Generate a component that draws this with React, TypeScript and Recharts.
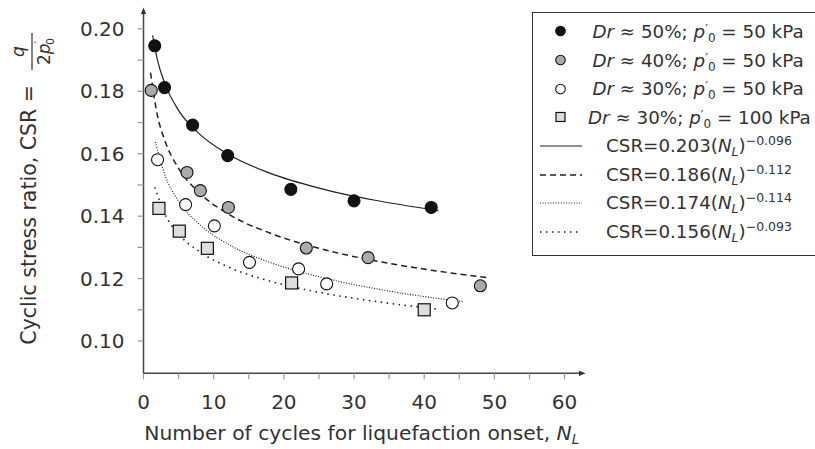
import {
  ComposedChart,
  Scatter,
  Line,
  XAxis,
  YAxis,
  Legend,
} from "recharts";

const blackN = [1.6, 3, 7, 12, 21, 30, 41];
const blackCSR = [0.1946, 0.1812, 0.1692, 0.1594, 0.1486, 0.1449, 0.1428];
const grayN = [1.1, 6.2, 8.1, 12.1, 23.2, 32, 48];
const grayCSR = [0.1803, 0.154, 0.1482, 0.1428, 0.1298, 0.1267, 0.1177];
const whiteN = [2, 6, 10.1, 15.1, 22.1, 26.1, 44];
const whiteCSR = [0.1581, 0.1437, 0.1369, 0.1252, 0.1231, 0.1183, 0.1122];
const squareN = [2.2, 5.1, 9.1, 21.1, 40];
const squareCSR = [0.1425, 0.1352, 0.1297, 0.1186, 0.11];

// fitted curves, sampled from the figure
const fitSolidN = [1.3, 2, 3, 5, 8, 12, 18, 25, 33, 42];
const fitSolidCSR = [0.1979, 0.1899, 0.1827, 0.1739, 0.1663, 0.1599, 0.1538, 0.149, 0.1451, 0.1418];
const fitDashN = [1, 2, 3, 5, 8, 12, 18, 25, 33, 41, 49];
const fitDashCSR = [0.186, 0.1721, 0.1645, 0.1553, 0.1474, 0.1408, 0.1346, 0.1297, 0.1257, 0.1227, 0.1203];
const fitDenseN = [1.7, 3, 5, 8, 12, 18, 25, 35, 45.5];
const fitDenseCSR = [0.1638, 0.1535, 0.1448, 0.1373, 0.1311, 0.1252, 0.1206, 0.116, 0.1126];
const fitSparseN = [1.6, 3, 5, 8, 12, 18, 25, 33, 42];
const fitSparseCSR = [0.1493, 0.1409, 0.1343, 0.1286, 0.1238, 0.1192, 0.1156, 0.1127, 0.1102];

const xTicks = [0, 5, 10, 15, 20, 25, 30, 35, 40, 45, 50, 55, 60];
const yTicks = [0.1, 0.11, 0.12, 0.13, 0.14, 0.15, 0.16, 0.17, 0.18, 0.19, 0.2];

const pointLabels = ["50%", "40%", "30%", "30%"];
const pressures = ["50", "50", "50", "100"];
const fitLabels = [
  ["0.203", "−0.096"],
  ["0.186", "−0.112"],
  ["0.174", "−0.114"],
  ["0.156", "−0.093"],
];

const FONT = "'DejaVu Sans', sans-serif";
const TEXT = "#333";

const toPts = (ns: number[], vs: number[]) => ns.map((n, i) => ({ n, csr: vs[i] }));

const circleShape = (fill: string) => (p: any) =>
  <circle cx={p.cx} cy={p.cy} r={6} fill={fill} stroke="#111" strokeWidth={1.1} />;

const squareShape = (p: any) =>
  <rect x={p.cx - 6} y={p.cy - 6} width={12} height={12} fill="#ddd" stroke="#111" strokeWidth={1.2} />;

const lineStyles = [
  { dash: undefined, width: 1.2 },
  { dash: "6 4", width: 1.5 },
  { dash: "1 1.6", width: 1.2 },
  { dash: "1.5 4.5", width: 1.6 },
];

function YLabel() {
  return (
    <g fill={TEXT} fontFamily={FONT}>
      <defs>
        <marker
          id="axisArrow"
          viewBox="0 0 10 10"
          refX={2}
          refY={5}
          markerWidth={7}
          markerHeight={7}
          markerUnits="userSpaceOnUse"
          orient="auto-start-reverse"
        >
          <path d="M0,1 L10,5 L0,9 z" fill="#333" />
        </marker>
      </defs>
      <text transform="translate(36,85) rotate(-90)" textAnchor="end" fontSize={20.5}>
        Cyclic stress ratio, CSR =
      </text>
      <text transform="translate(24,51.5) rotate(-90)" textAnchor="middle" fontSize={17} fontStyle="italic">
        q
      </text>
      <line x1={32} y1={33} x2={32} y2={70} stroke={TEXT} strokeWidth={1.2} />
      <text transform="translate(50,51.5) rotate(-90)" textAnchor="middle" fontSize={17}>
        2<tspan fontStyle="italic">p</tspan>
        <tspan fontSize={11} dy={-8}>′</tspan>
        <tspan fontSize={11} dx={-4} dy={12}>0</tspan>
      </text>
    </g>
  );
}

function XLabel(props: any) {
  const vb = props.viewBox || { x: 143.5, width: 436.5 };
  return (
    <text x={vb.x + vb.width / 2} y={440} textAnchor="middle" fontSize={20.3} fontFamily={FONT} fill={TEXT}>
      Number of cycles for liquefaction onset,{" "}
      <tspan fontStyle="italic">N</tspan>
      <tspan fontStyle="italic" fontSize={13.5} dy={4}>L</tspan>
    </text>
  );
}

function Prime0() {
  return (
    <>
      <sup style={{ fontSize: 12, verticalAlign: 5, lineHeight: 0, fontStyle: "normal" }}>′</sup>
      <sub style={{ fontSize: 12, verticalAlign: -4, lineHeight: 0, fontStyle: "normal" }}>0</sub>
    </>
  );
}

function MarkerIcon({ i }: { i: number }) {
  if (i === 3) return <rect x={23} y={5.5} width={9} height={9} fill="#ddd" stroke="#111" strokeWidth={1.2} />;
  const fill = ["#111", "#aaa", "#fff"][i];
  return <circle cx={27.5} cy={10} r={4.8} fill={fill} stroke="#111" strokeWidth={1.1} />;
}

function LegendBox() {
  const rowStyle = { display: "flex", alignItems: "center", height: 28.7 };
  return (
    <div
      style={{
        border: "1.5px solid #333",
        background: "#fff",
        width: 300,
        padding: "4px 0 8px 0",
        fontFamily: FONT,
        fontSize: 18.3,
        color: TEXT,
        whiteSpace: "nowrap",
      }}
    >
      {pointLabels.map((lab, i) => (
        <div key={"p" + i} style={rowStyle}>
          <svg width={55} height={20}>
            <MarkerIcon i={i} />
          </svg>
          <div style={{ width: 220, textAlign: "center" }}>
            <i>Dr</i> ≈ {lab}; <i>p</i>
            <Prime0 /> = {pressures[i]} kPa
          </div>
        </div>
      ))}
      {fitLabels.map(([a, b], i) => (
        <div key={"f" + i} style={rowStyle}>
          <svg width={55} height={20}>
            <line
              x1={7}
              y1={10}
              x2={49}
              y2={10}
              stroke="#222"
              strokeWidth={lineStyles[i].width}
              strokeDasharray={lineStyles[i].dash}
            />
          </svg>
          <div style={{ width: 222, textAlign: "center" }}>
            CSR=<span>{a}</span>(<i>N</i>
            <sub style={{ fontSize: 12.5, fontStyle: "italic", verticalAlign: -4 }}>L</sub>)
            <sup style={{ fontSize: 12.5, verticalAlign: 7 }}>{b}</sup>
          </div>
        </div>
      ))}
    </div>
  );
}

export default function App() {
  const series = [
    { data: toPts(blackN, blackCSR), shape: circleShape("#111") },
    { data: toPts(grayN, grayCSR), shape: circleShape("#aaa") },
    { data: toPts(whiteN, whiteCSR), shape: circleShape("#fff") },
    { data: toPts(squareN, squareCSR), shape: squareShape },
  ];
  const fits = [
    toPts(fitSolidN, fitSolidCSR),
    toPts(fitDashN, fitDashCSR),
    toPts(fitDenseN, fitDenseCSR),
    toPts(fitSparseN, fitSparseCSR),
  ];

  return (
    <div style={{ position: "absolute", left: 0, top: 0, width: 815, height: 449, overflow: "hidden", background: "#fff" }}>
      <ComposedChart width={815} height={449} margin={{ top: 13, right: 235, left: 0, bottom: 0 }}>
        <XAxis
          type="number"
          dataKey="n"
          domain={[0, 62.2]}
          ticks={xTicks}
          interval={0}
          tickFormatter={(v: number) => (v % 10 === 0 ? String(v) : "")}
          height={75.7}
          tickSize={6}
          tickMargin={15}
          tickLine={{ stroke: "#999", strokeWidth: 1.2 }}
          axisLine={{ stroke: "#444", strokeWidth: 1.5, markerEnd: "url(#axisArrow)" }}
          tick={{ fill: TEXT, fontSize: 20, fontFamily: FONT }}
          label={<XLabel />}
        />
        <YAxis
          type="number"
          dataKey="csr"
          domain={[0.08965, 0.2051]}
          ticks={yTicks}
          interval={0}
          tickFormatter={(v: number) => (Math.round(v * 100) % 2 === 0 ? v.toFixed(2) : "")}
          width={143.5}
          tickSize={6}
          tickMargin={13}
          tickLine={{ stroke: "#999", strokeWidth: 1.2 }}
          axisLine={{ stroke: "#444", strokeWidth: 1.5, markerStart: "url(#axisArrow)" }}
          tick={{ fill: TEXT, fontSize: 20, fontFamily: FONT }}
          label={<YLabel />}
        />
        {fits.map((d, i) => (
          <Line
            key={"fit" + i}
            data={d}
            dataKey="csr"
            type="monotone"
            dot={false}
            activeDot={false}
            stroke="#222"
            strokeWidth={lineStyles[i].width}
            strokeDasharray={lineStyles[i].dash}
            isAnimationActive={false}
          />
        ))}
        {series.map((s, i) => (
          <Scatter key={"pts" + i} data={s.data} dataKey="csr" shape={s.shape} isAnimationActive={false} />
        ))}
        <Legend
          layout="vertical"
          align="center"
          verticalAlign="middle"
          wrapperStyle={{ left: 532, top: 12, width: 310 }}
          content={() => <LegendBox />}
        />
      </ComposedChart>
    </div>
  );
}
